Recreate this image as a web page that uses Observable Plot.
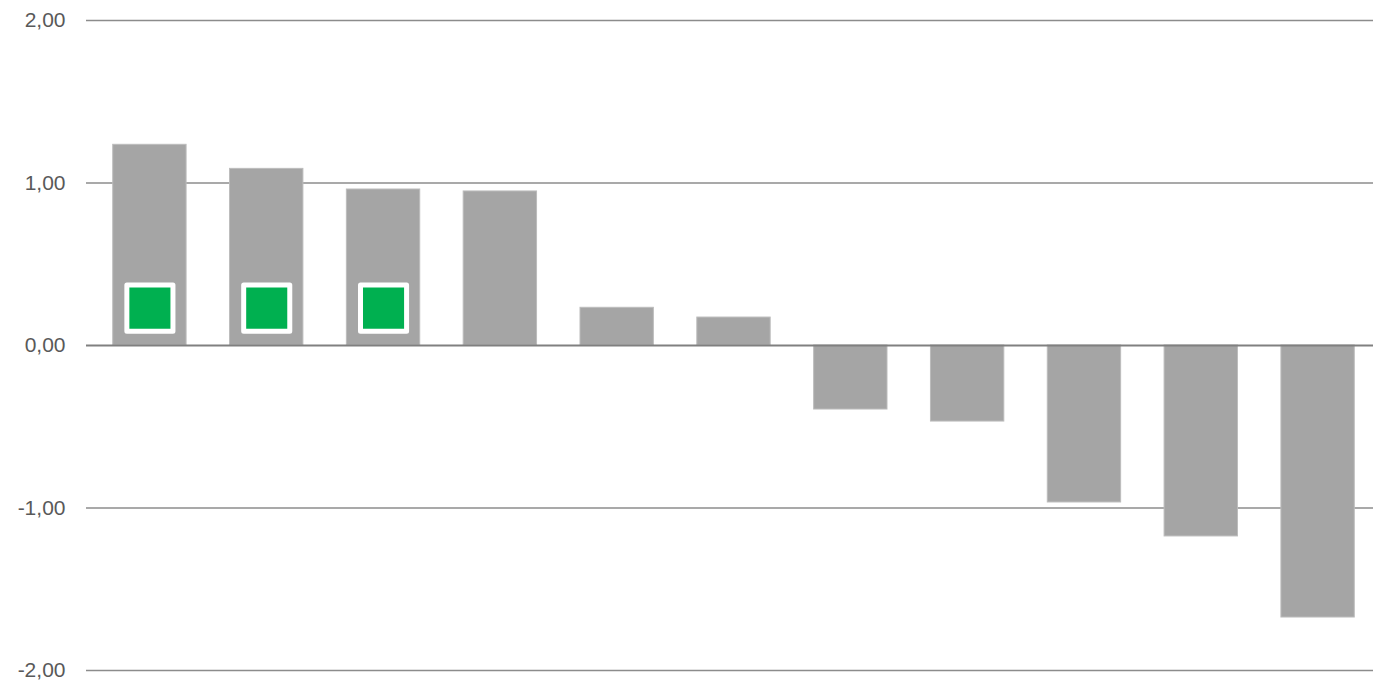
<!DOCTYPE html>
<html>
<head>
<meta charset="utf-8">
<script src="https://cdn.jsdelivr.net/npm/d3@7"></script>
<script src="https://cdn.jsdelivr.net/npm/@observablehq/plot@0.6"></script>
<style>
  html, body { margin: 0; padding: 0; background: #ffffff; }
  #chart svg { display: block; }
</style>
</head>
<body>
<div id="chart"></div>
<script>
const categories = ["1", "2", "3", "4", "5", "6", "7", "8", "9", "10", "11"];
const values = [1.235, 1.087, 0.96, 0.948, 0.232, 0.172, -0.394, -0.468, -0.966, -1.175, -1.674];
const markerCategories = ["1", "2", "3"];
const markerValues = [0.23, 0.23, 0.23];
const yTicks = [-2, -1, 0, 1, 2];

const bars = categories.map((c, i) => ({category: c, value: values[i]}));
const markers = markerCategories.map((c, i) => ({category: c, value: markerValues[i]}));

const fmt = d => (d < 0 ? "-" : "") + Math.abs(d).toFixed(2).replace(".", ",");

const chart = Plot.plot({
  width: 1373,
  height: 682,
  marginLeft: 86,
  marginRight: 0,
  marginTop: 20,
  marginBottom: 12,
  style: {fontFamily: "'Liberation Sans', Arial, sans-serif", fontSize: "21px", color: "#595959", background: "#ffffff"},
  x: {domain: categories, range: [91, 1376], paddingInner: 0.372, paddingOuter: 0.186, round: false, axis: null},
  y: {domain: [-2, 2], ticks: yTicks, tickFormat: fmt, tickSize: 0, tickPadding: 21, label: null},
  marks: [
    Plot.ruleY(yTicks.filter(d => d !== 0), {stroke: "#8c8c8c", strokeWidth: 1.5}),
    Plot.barY(bars, {x: "category", y: "value", fill: "#a5a5a5", stroke: "#bcbcbc", strokeWidth: 1}),
    Plot.ruleY([0], {stroke: "#808080", strokeWidth: 2}),
    Plot.dot(markers, {x: "category", y: "value", symbol: "square", r: 26, fill: "#00b050", stroke: "#ffffff", strokeWidth: 5, strokeLinejoin: "round"}),
    Plot.axisY({ticks: yTicks, tickFormat: fmt, tickSize: 0, tickPadding: 21, fill: "#595959", fontSize: 21})
  ]
});
document.getElementById("chart").appendChild(chart);
</script>
</body>
</html>
